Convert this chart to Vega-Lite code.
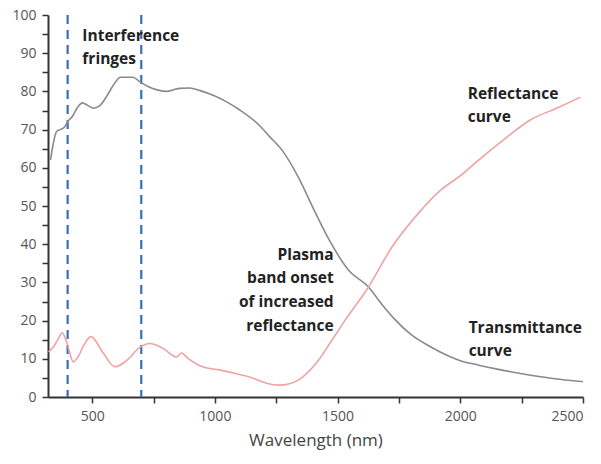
{
  "$schema": "https://vega.github.io/schema/vega-lite/v6.json",
  "width": 535,
  "height": 382,
  "autosize": "none",
  "padding": {"left": 48, "top": 15, "right": 18, "bottom": 67},
  "background": "white",
  "config": {
    "view": {"stroke": null},
    "axis": {
      "grid": false,
      "domainColor": "#333333",
      "domainWidth": 2,
      "tickColor": "#333333",
      "tickWidth": 1.5,
      "labelFont": "Open Sans",
      "labelFontSize": 14,
      "labelColor": "#555555",
      "labelOverlap": false,
      "titleFont": "Open Sans",
      "titleFontWeight": "normal",
      "titleColor": "#444444"
    }
  },
  "datasets": {
    "curves": [
      {"wl": 330, "value": 62, "series": "Transmittance"},
      {"wl": 342, "value": 66.5, "series": "Transmittance"},
      {"wl": 355, "value": 69.5, "series": "Transmittance"},
      {"wl": 370, "value": 70, "series": "Transmittance"},
      {"wl": 385, "value": 70.5, "series": "Transmittance"},
      {"wl": 403, "value": 72.3, "series": "Transmittance"},
      {"wl": 420, "value": 73.5, "series": "Transmittance"},
      {"wl": 440, "value": 75.8, "series": "Transmittance"},
      {"wl": 460, "value": 77, "series": "Transmittance"},
      {"wl": 480, "value": 76.4, "series": "Transmittance"},
      {"wl": 505, "value": 75.6, "series": "Transmittance"},
      {"wl": 530, "value": 76.2, "series": "Transmittance"},
      {"wl": 560, "value": 78.8, "series": "Transmittance"},
      {"wl": 590, "value": 82, "series": "Transmittance"},
      {"wl": 615, "value": 83.7, "series": "Transmittance"},
      {"wl": 665, "value": 83.7, "series": "Transmittance"},
      {"wl": 695, "value": 82.5, "series": "Transmittance"},
      {"wl": 730, "value": 81.2, "series": "Transmittance"},
      {"wl": 765, "value": 80.4, "series": "Transmittance"},
      {"wl": 805, "value": 80, "series": "Transmittance"},
      {"wl": 855, "value": 80.8, "series": "Transmittance"},
      {"wl": 897, "value": 80.9, "series": "Transmittance"},
      {"wl": 940, "value": 80.2, "series": "Transmittance"},
      {"wl": 1000, "value": 78.8, "series": "Transmittance"},
      {"wl": 1050, "value": 77.2, "series": "Transmittance"},
      {"wl": 1100, "value": 75.2, "series": "Transmittance"},
      {"wl": 1180, "value": 71.2, "series": "Transmittance"},
      {"wl": 1221, "value": 68.3, "series": "Transmittance"},
      {"wl": 1275, "value": 64.5, "series": "Transmittance"},
      {"wl": 1342, "value": 57.3, "series": "Transmittance"},
      {"wl": 1400, "value": 49.5, "series": "Transmittance"},
      {"wl": 1464, "value": 41.3, "series": "Transmittance"},
      {"wl": 1545, "value": 33.2, "series": "Transmittance"},
      {"wl": 1626, "value": 28.8, "series": "Transmittance"},
      {"wl": 1680, "value": 24.3, "series": "Transmittance"},
      {"wl": 1735, "value": 20.2, "series": "Transmittance"},
      {"wl": 1800, "value": 16.3, "series": "Transmittance"},
      {"wl": 1880, "value": 13.1, "series": "Transmittance"},
      {"wl": 1950, "value": 10.8, "series": "Transmittance"},
      {"wl": 2000, "value": 9.5, "series": "Transmittance"},
      {"wl": 2071, "value": 8.4, "series": "Transmittance"},
      {"wl": 2150, "value": 7.3, "series": "Transmittance"},
      {"wl": 2250, "value": 6.1, "series": "Transmittance"},
      {"wl": 2350, "value": 5.1, "series": "Transmittance"},
      {"wl": 2450, "value": 4.3, "series": "Transmittance"},
      {"wl": 2500, "value": 4, "series": "Transmittance"},
      {"wl": 322, "value": 11.8, "series": "Reflectance"},
      {"wl": 342, "value": 13.1, "series": "Reflectance"},
      {"wl": 360, "value": 15, "series": "Reflectance"},
      {"wl": 378, "value": 16.8, "series": "Reflectance"},
      {"wl": 397, "value": 14.2, "series": "Reflectance"},
      {"wl": 423, "value": 9.2, "series": "Reflectance"},
      {"wl": 445, "value": 10.8, "series": "Reflectance"},
      {"wl": 464, "value": 13.3, "series": "Reflectance"},
      {"wl": 495, "value": 15.8, "series": "Reflectance"},
      {"wl": 545, "value": 11.5, "series": "Reflectance"},
      {"wl": 593, "value": 7.9, "series": "Reflectance"},
      {"wl": 640, "value": 9.5, "series": "Reflectance"},
      {"wl": 694, "value": 13, "series": "Reflectance"},
      {"wl": 735, "value": 14, "series": "Reflectance"},
      {"wl": 787, "value": 12.8, "series": "Reflectance"},
      {"wl": 844, "value": 10.5, "series": "Reflectance"},
      {"wl": 864, "value": 11.5, "series": "Reflectance"},
      {"wl": 889, "value": 10.2, "series": "Reflectance"},
      {"wl": 950, "value": 7.9, "series": "Reflectance"},
      {"wl": 1018, "value": 7.1, "series": "Reflectance"},
      {"wl": 1100, "value": 5.9, "series": "Reflectance"},
      {"wl": 1152, "value": 5, "series": "Reflectance"},
      {"wl": 1210, "value": 3.6, "series": "Reflectance"},
      {"wl": 1261, "value": 3.1, "series": "Reflectance"},
      {"wl": 1300, "value": 3.4, "series": "Reflectance"},
      {"wl": 1342, "value": 4.5, "series": "Reflectance"},
      {"wl": 1380, "value": 6.5, "series": "Reflectance"},
      {"wl": 1423, "value": 9.7, "series": "Reflectance"},
      {"wl": 1476, "value": 14.8, "series": "Reflectance"},
      {"wl": 1532, "value": 20.2, "series": "Reflectance"},
      {"wl": 1626, "value": 28.8, "series": "Reflectance"},
      {"wl": 1719, "value": 39, "series": "Reflectance"},
      {"wl": 1828, "value": 48, "series": "Reflectance"},
      {"wl": 1921, "value": 54.2, "series": "Reflectance"},
      {"wl": 2002, "value": 58, "series": "Reflectance"},
      {"wl": 2071, "value": 61.8, "series": "Reflectance"},
      {"wl": 2180, "value": 67.5, "series": "Reflectance"},
      {"wl": 2285, "value": 72.5, "series": "Reflectance"},
      {"wl": 2400, "value": 75.8, "series": "Reflectance"},
      {"wl": 2490, "value": 78.5, "series": "Reflectance"}
    ],
    "fringes": [{"wl": 400}, {"wl": 700}],
    "notesLeft": [
      {"wl": 460, "value": 96.3, "label": "Interference\nfringes"},
      {"wl": 2030, "value": 81.2, "label": "Reflectance\ncurve"},
      {"wl": 2034, "value": 19.9, "label": "Transmittance\ncurve"}
    ],
    "notesRight": [
      {"wl": 1484, "value": 39.1, "label": "Plasma\nband onset\nof increased\nreflectance"}
    ]
  },
  "encoding": {
    "x": {
      "field": "wl",
      "type": "quantitative",
      "scale": {"domain": [320, 2500], "nice": false, "zero": false},
      "axis": {
        "values": [500, 750, 1000, 1250, 1500, 1750, 2000, 2250, 2500],
        "labelExpr": "datum.value % 500 === 0 ? datum.label : ''",
        "format": "d",
        "tickSize": 6,
        "tickOpacity": 1,
        "labelPadding": 6,
        "title": "Wavelength (nm)",
        "titleFontSize": 17,
        "titlePadding": 9
      }
    },
    "y": {
      "field": "value",
      "type": "quantitative",
      "scale": {"domain": [0, 100], "nice": false, "zero": true},
      "axis": {
        "values": [0, 5, 10, 15, 20, 25, 30, 35, 40, 45, 50, 55, 60, 65, 70, 75, 80, 85, 90, 95, 100],
        "labelExpr": "datum.value % 10 === 0 ? datum.label : ''",
        "labelOverlap": false,
        "labelBound": false,
        "tickSize": 6,
        "labelPadding": 6,
        "title": null
      }
    }
  },
  "layer": [
    {
      "data": {"name": "fringes"},
      "mark": {"type": "rule", "color": "#3a6fb5", "strokeWidth": 2.2, "strokeDash": [9, 6]},
      "encoding": {"y": null}
    },
    {
      "data": {"name": "curves"},
      "mark": {"type": "line", "strokeWidth": 1.6, "interpolate": "monotone"},
      "encoding": {
        "color": {
          "field": "series",
          "type": "nominal",
          "scale": {"domain": ["Transmittance", "Reflectance"], "range": ["#8a8a8a", "#f0a3a3"]},
          "legend": null
        }
      }
    },
    {
      "data": {"name": "notesLeft"},
      "mark": {"type": "text", "align": "left", "baseline": "top", "font": "Open Sans", "fontWeight": "bold", "fontSize": 15.5, "lineHeight": 23, "color": "#222222", "lineBreak": "\n"},
      "encoding": {
        "text": {"field": "label"}
      }
    },
    {
      "data": {"name": "notesRight"},
      "mark": {"type": "text", "align": "right", "baseline": "top", "font": "Open Sans", "fontWeight": "bold", "fontSize": 15.5, "lineHeight": 23.7, "color": "#222222", "lineBreak": "\n"},
      "encoding": {
        "text": {"field": "label"}
      }
    }
  ]
}
